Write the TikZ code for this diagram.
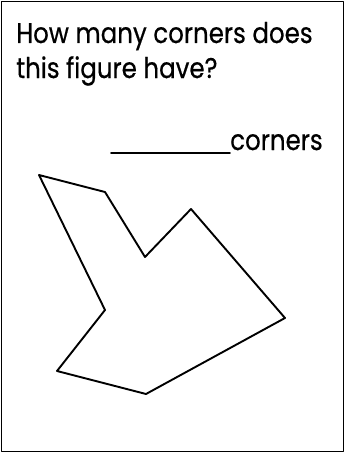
\documentclass[tikz,border=0pt]{standalone}
\usepackage{fontspec}
\setmainfont{Poppins}
\newfontfamily\qfont{Poppins}[FakeBold=0.6]
\newcommand\narrow[1]{\scalebox{0.86}[1]{#1}}
\begin{document}
\begin{tikzpicture}[x=1pt, y=-1pt, line join=round, line cap=round,
	question/.style={anchor=base west, inner sep=0pt, font=\qfont\fontsize{28.5}{34}\selectfont},
	figure/.style={line width=1.9pt}]
	\def\W{344} \def\H{452}
	\useasboundingbox (0,0) rectangle (\W,\H);
	\draw[line width=0.8pt] (1,1) rectangle (\W-1,\H-1);
	\node[question] (q1) at (16,43) {\narrow{How many corners does}};
	\node[question] (q2) at (16,78) {\narrow{this figure have?}};
	\node[question] (ans) at (230,150) {\narrow{corners}};
	\coordinate (blank) at (111,153);
	\draw[line width=1.8pt] (blank) -- (blank -| ans.west);
	% the figure
	\coordinate (a) at (39,175);
	\coordinate (b) at (105,192);
	\coordinate (c) at (145,257);
	\coordinate (d) at (191,209);
	\coordinate (e) at (285,318);
	\coordinate (f) at (146,394);
	\coordinate (g) at (57,371);
	\coordinate (h) at (105,310);
	\draw[figure] (a)--(b)--(c)--(d)--(e)--(f)--(g)--(h)--cycle;
\end{tikzpicture}
\end{document}
